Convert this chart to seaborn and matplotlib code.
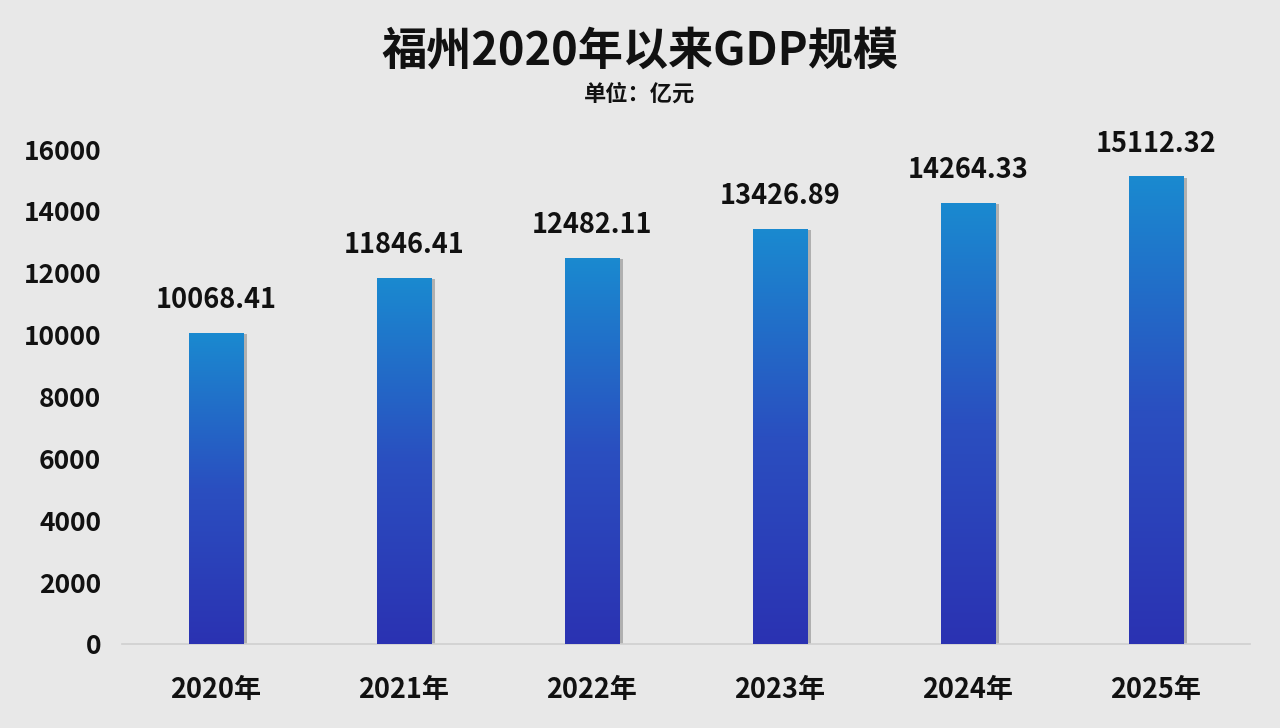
import numpy as np
import pandas as pd
import matplotlib
matplotlib.use("Agg")
import matplotlib.pyplot as plt
import matplotlib.patheffects as pe
from matplotlib.colors import LinearSegmentedColormap
import seaborn as sns

years = ["2020年", "2021年", "2022年", "2023年", "2024年", "2025年"]
gdp = [10068.41, 11846.41, 12482.11, 13426.89, 14264.33, 15112.32]
yticks = [0, 2000, 4000, 6000, 8000, 10000, 12000, 14000, 16000]

sns.set_theme(style="white")
plt.rcParams['font.family'] = ['Noto Sans CJK SC', 'DejaVu Sans']
bg = "#e8e8e8"

fig = plt.figure(figsize=(12.8, 7.28), dpi=100, facecolor=bg)
ax = fig.add_axes([122/1280, 1-644/728, (1250-122)/1280, (644-149)/728])
ax.set_facecolor(bg)

df = pd.DataFrame({"year": years, "gdp": gdp})
sns.barplot(data=df, x="year", y="gdp", ax=ax, width=0.29, color="#1f6fc4",
            saturation=1, edgecolor="none")

cmap = LinearSegmentedColormap.from_list("g", ["#2b32b2", "#2a4fc0", "#1a8ad0"])
grad = np.linspace(0, 1, 256).reshape(-1, 1)
for p in list(ax.patches):
    p.set_path_effects([pe.SimplePatchShadow(offset=(3, -1), shadow_rgbFace="#7a7a7a", alpha=0.5), pe.Normal()])
    x0, y0 = p.get_x(), p.get_y()
    w, h = p.get_width(), p.get_height()
    im = ax.imshow(grad, cmap=cmap, aspect="auto", origin="lower",
                   extent=[x0, x0 + w, y0, y0 + h], zorder=3)
    im.set_clip_path(p)

for i, v in enumerate(gdp):
    ax.text(i, v + 600, f"{v:.2f}", ha="center", va="bottom", fontsize=19.5,
            fontweight="bold", color="#111111")

ax.set_xlim(-0.5, 5.5)
ax.set_ylim(0, 16000)
ax.set_yticks(yticks)
ax.set_yticklabels([str(t) for t in yticks])
ax.tick_params(axis="both", length=0)
ax.tick_params(axis="x", pad=23, labelsize=19.5)
ax.tick_params(axis="y", pad=15, labelsize=19)
for lab in ax.get_xticklabels() + ax.get_yticklabels():
    lab.set_fontweight("bold")
    lab.set_color("#111111")
ax.set_xlabel("")
ax.set_ylabel("")
for s in ["top", "right", "left"]:
    ax.spines[s].set_visible(False)
ax.spines["bottom"].set_color("#cfcfcf")
ax.spines["bottom"].set_linewidth(1.2)

fig.text(640/1280, 1-52/728, "福州2020年以来GDP规模", ha="center", va="center",
         fontsize=32.5, fontweight="bold", color="#111111")
fig.text(640/1280, 1-94/728, "单位：亿元", ha="center", va="center",
         fontsize=16, fontweight="bold", color="#111111")

fig.savefig("out.png", dpi=100, facecolor=bg)
